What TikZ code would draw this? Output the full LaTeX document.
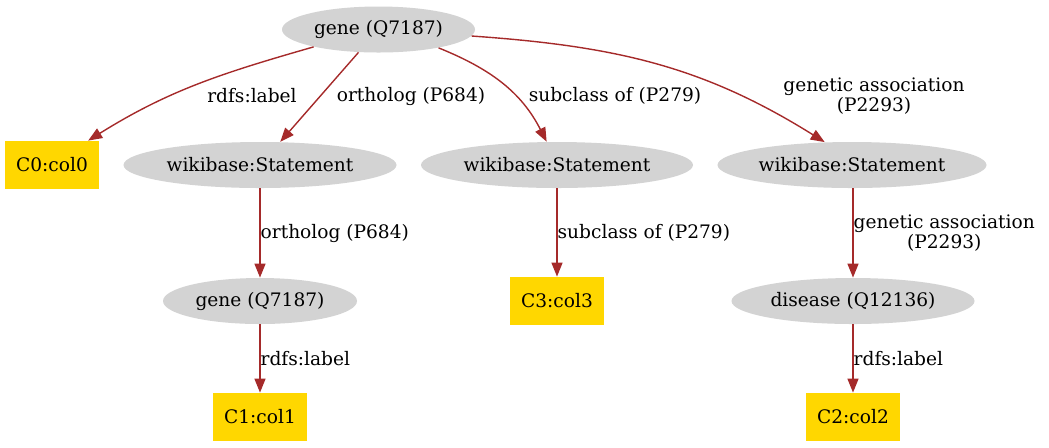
\documentclass[tikz,border=0pt]{standalone}
\usepackage{fontspec}
\setmainfont{DejaVu Serif}
\usetikzlibrary{positioning, arrows.meta, shapes.geometric}
\definecolor{nodegray}{HTML}{D3D3D3}
\definecolor{colgold}{HTML}{FFD700}
\definecolor{edgebrown}{HTML}{A52A2A}

\begin{document}
\begin{tikzpicture}[x=0.5pt,y=0.5pt,>={Triangle[length=7pt,width=5.5pt]},
  font=\fontsize{9.3}{10.2}\selectfont]
\tikzset{ent/.style={ellipse,fill=nodegray,inner sep=0,minimum height=23pt},
  col/.style={rectangle,fill=colgold,inner sep=0,minimum width=47pt,minimum height=24pt},
  edge/.style={->,draw=edgebrown,line width=0.7pt},
  lbl/.style={inner sep=0,align=center}}
\useasboundingbox (0,0) rectangle (1049,-447);

% nodes
\node[ent,minimum width=96.5pt] (gene) at (378.5,-29.5) {gene (Q7187)};
\node[col] (c0) at (52,-165) {C0:col0};
\node[ent,minimum width=136.5pt] (st1) at (260,-165) {wikibase:Statement};
\node[ent,minimum width=136pt] (st2) at (557,-165) {wikibase:Statement};
\node[ent,minimum width=134.5pt] (st3) at (852,-165) {wikibase:Statement};
\node[ent,minimum width=97pt] (gene2) at (260,-301) {gene (Q7187)};
\node[col] (c3) at (557,-301) {C3:col3};
\node[ent,minimum width=121.5pt] (dis) at (853,-301) {disease (Q12136)};
\node[col] (c1) at (260,-417) {C1:col1};
\node[col] (c2) at (853,-417) {C2:col2};

% labels of the upper edges
\node[lbl] (l1) at (252,-96) {rdfs:label};
\node[lbl] (l2) at (411,-96) {ortholog (P684)};
\node[lbl] (l3) at (615,-96) {subclass of (P279)};
\node[lbl] (l4) at (874,-96) {genetic association\\(P2293)};

% edges
\draw[edge] (gene.195) to[out=196,in=32] (c0.34);
\draw[edge] (gene) -- (st1);
\draw[edge] (gene.-17) to[out=-22,in=117] (st2.114);
\draw[edge] (gene) to[out=-4,in=148] (st3.140);
\draw[edge] (st1) -- node[lbl,right] (l5) {ortholog (P684)} (gene2);
\draw[edge] (st2) -- node[lbl,right] (l6) {subclass of (P279)} (c3);
\draw[edge] (st3.south -| dis) -- node[lbl,right] (l7) {genetic association\\(P2293)} (dis);
\draw[edge] (gene2) -- node[lbl,right] (l8) {rdfs:label} (c1);
\draw[edge] (dis) -- node[lbl,right] (l9) {rdfs:label} (c2);
\end{tikzpicture}
\end{document}
